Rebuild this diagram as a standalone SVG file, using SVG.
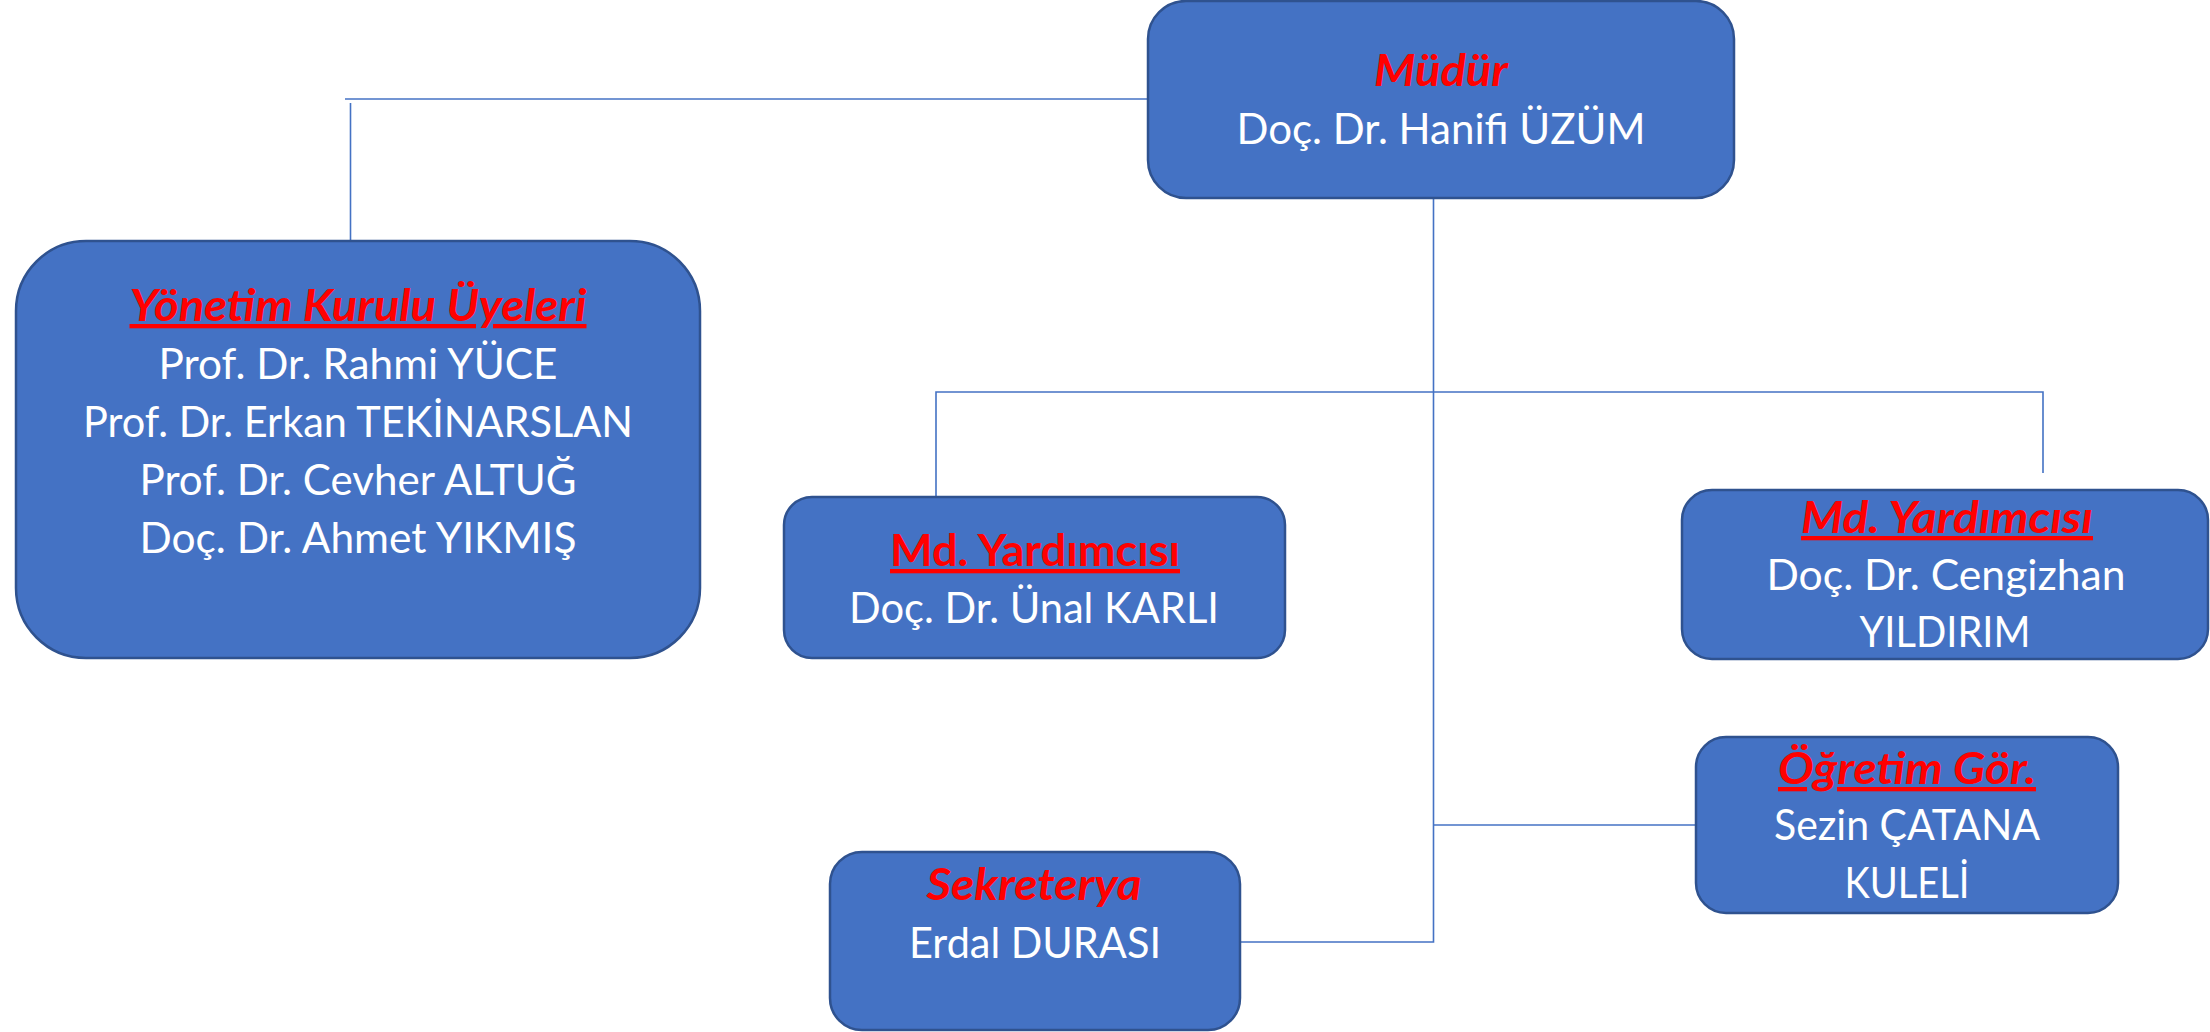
<svg xmlns="http://www.w3.org/2000/svg" width="2210" height="1032" viewBox="0 0 2210 1032">
<style>
.box{fill:#4472C4;stroke:#2F528F;stroke-width:2.5}
.con{fill:none;stroke:#4472C4;stroke-width:1.6}
text{font-family:Lato,"Liberation Sans",sans-serif;font-size:43px;text-anchor:middle}
.t{fill:#FFFFFF}
.h{fill:#FF0000;font-weight:bold}
.i{font-style:italic}
.u{text-decoration:underline}
</style>
<rect width="2210" height="1032" fill="#FFFFFF"/>
<g id="connectors">
<path class="con" d="M1148 99 H345"/>
<path class="con" d="M350.5 103 V241"/>
<path class="con" d="M1433.5 198 V942 H1240"/>
<path class="con" d="M936 497 V392 H2043 V473"/>
<path class="con" d="M1433.5 825 H1696"/>
</g>
<g id="mudur">
<rect class="box" x="1148" y="1" width="586" height="197" rx="38"/>
<text class="h i" x="1441" y="86" textLength="134" lengthAdjust="spacingAndGlyphs">Müdür</text>
<text class="t" x="1441" y="144" textLength="409" lengthAdjust="spacingAndGlyphs">Doç. Dr. Hanifi ÜZÜM</text>
</g>
<g id="yonetim">
<rect class="box" x="16" y="241" width="684" height="417" rx="70"/>
<text class="h i u" x="358" y="321" textLength="457" lengthAdjust="spacingAndGlyphs">Yönetim Kurulu Üyeleri</text>
<text class="t" x="358" y="379" textLength="399" lengthAdjust="spacingAndGlyphs">Prof. Dr. Rahmi YÜCE</text>
<text class="t" x="358" y="437" textLength="550" lengthAdjust="spacingAndGlyphs">Prof. Dr. Erkan TEKİNARSLAN</text>
<text class="t" x="358" y="495" textLength="437" lengthAdjust="spacingAndGlyphs">Prof. Dr. Cevher ALTUĞ</text>
<text class="t" x="358" y="553" textLength="437" lengthAdjust="spacingAndGlyphs">Doç. Dr. Ahmet YIKMIŞ</text>
</g>
<g id="mdyard1">
<rect class="box" x="784" y="497" width="501" height="161" rx="28"/>
<text class="h u" x="1035" y="566" textLength="290" lengthAdjust="spacingAndGlyphs">Md. Yardımcısı</text>
<text class="t" x="1034" y="623" textLength="370" lengthAdjust="spacingAndGlyphs">Doç. Dr. Ünal KARLI</text>
</g>
<g id="mdyard2">
<rect class="box" x="1682" y="490" width="526" height="169" rx="30"/>
<text class="h i u" x="1947" y="533" textLength="292" lengthAdjust="spacingAndGlyphs">Md. Yardımcısı</text>
<text class="t" x="1946" y="590" textLength="359" lengthAdjust="spacingAndGlyphs">Doç. Dr. Cengizhan</text>
<text class="t" x="1945" y="647" textLength="171" lengthAdjust="spacingAndGlyphs">YILDIRIM</text>
</g>
<g id="ogretim">
<rect class="box" x="1696" y="737" width="422" height="176" rx="30"/>
<text class="h i u" x="1907" y="784" textLength="258" lengthAdjust="spacingAndGlyphs">Öğretim Gör.</text>
<text class="t" x="1907" y="840" textLength="266" lengthAdjust="spacingAndGlyphs">Sezin ÇATANA</text>
<text class="t" x="1907" y="898" textLength="125" lengthAdjust="spacingAndGlyphs">KULELİ</text>
</g>
<g id="sekreterya">
<rect class="box" x="830" y="852" width="410" height="178" rx="32"/>
<text class="h i" x="1034" y="900" textLength="215" lengthAdjust="spacingAndGlyphs">Sekreterya</text>
<text class="t" x="1035" y="958" textLength="252" lengthAdjust="spacingAndGlyphs">Erdal DURASI</text>
</g>
</svg>
